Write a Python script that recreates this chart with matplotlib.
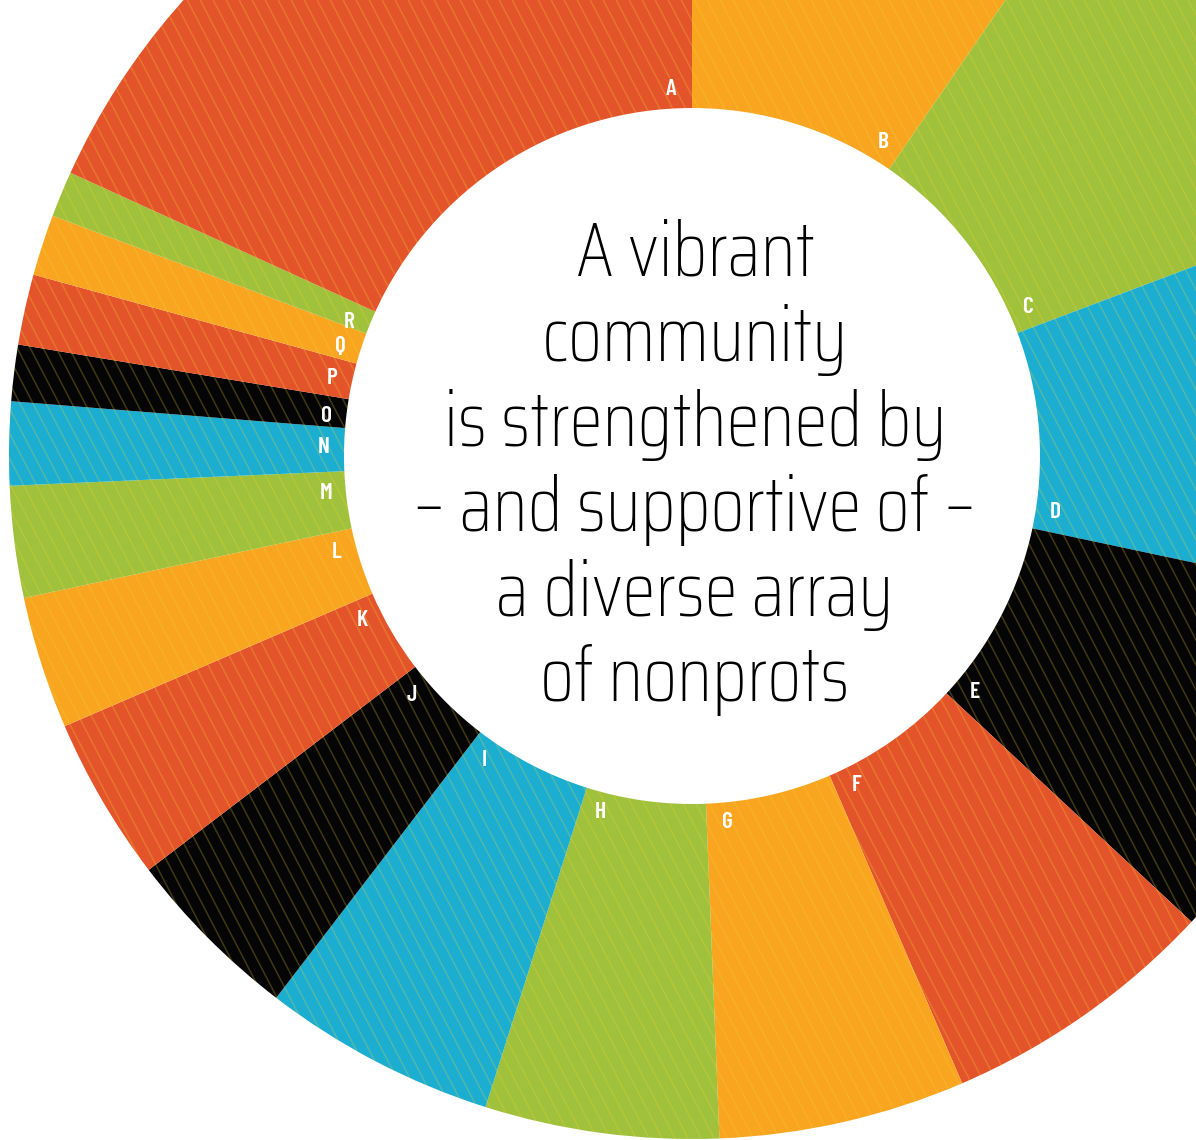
import matplotlib
matplotlib.use("Agg")
import numpy as np
import matplotlib.pyplot as plt
from matplotlib.patches import Wedge
from matplotlib.collections import LineCollection

# segment labels, clockwise from 12 o'clock (A closes the ring)
labels = ["B", "C", "D", "E", "F", "G", "H", "I", "J", "K", "L", "M", "N", "O", "P", "Q", "R", "A"]
values = [34.5, 34.8, 32.7, 31.0, 23.7, 21.0, 19.9, 19.9, 15.2, 14.0, 11.3, 9.5, 7.1, 4.8, 6.0, 5.2, 3.9, 65.5]
colors = ["#F9A51F", "#A0C13B", "#1BAED1", "#050505", "#E4542A",
          "#F9A51F", "#A0C13B", "#1BAED1", "#050505", "#E4542A",
          "#F9A51F", "#A0C13B", "#1BAED1", "#050505", "#E4542A",
          "#F9A51F", "#A0C13B", "#E4542A"]

center_lines = ["A vibrant", "community", "is strengthened by",
                "\u2013 and supportive of \u2013", "a diverse array", "of nonprots"]

W, H = 1196, 1140
cx, cy = 692, H - 456      # ring centre (y measured from bottom)
r_out, r_in = 683, 348

fig = plt.figure(figsize=(W / 100, H / 100), dpi=100)
ax = fig.add_axes([0, 0, 1, 1])

wedges, _ = ax.pie(values, colors=colors, startangle=90, counterclock=False,
                   center=(cx, cy), radius=r_out,
                   wedgeprops=dict(width=r_out - r_in, linewidth=0))
ax.set_xlim(0, W)
ax.set_ylim(0, H)
ax.set_aspect("equal")
ax.axis("off")

# fine diagonal stripes over the ring
ring = Wedge((cx, cy), r_out, 0, 360, width=r_out - r_in, transform=ax.transData)
slope = 0.52
segs = [[(x0, 0), (x0 - slope * H, H)] for x0 in np.arange(0, W + slope * H + 20, 13)]
stripes = LineCollection(segs, colors="#F2D43A", linewidths=1.1, alpha=0.25)
stripes.set_clip_path(ring)
ax.add_collection(stripes)

# letters just outside the hole, near the clockwise end of each segment
ends = np.cumsum(values)
for lab, end in zip(labels, ends):
    phi = np.deg2rad(end - 3.2)
    x = cx + 368 * np.sin(phi)
    y = cy + 368 * np.cos(phi)
    ax.text(x, y, lab, color="white", fontsize=17, fontweight="semibold",
            family="Barlow Condensed", ha="center", va="center")

# centre text
for i, line in enumerate(center_lines):
    ax.text(695, H - (276 + 85 * i), line, ha="center", va="baseline",
            fontsize=55, fontweight=250, family="Saira Condensed", color="black")

fig.savefig("out.png", dpi=100)
